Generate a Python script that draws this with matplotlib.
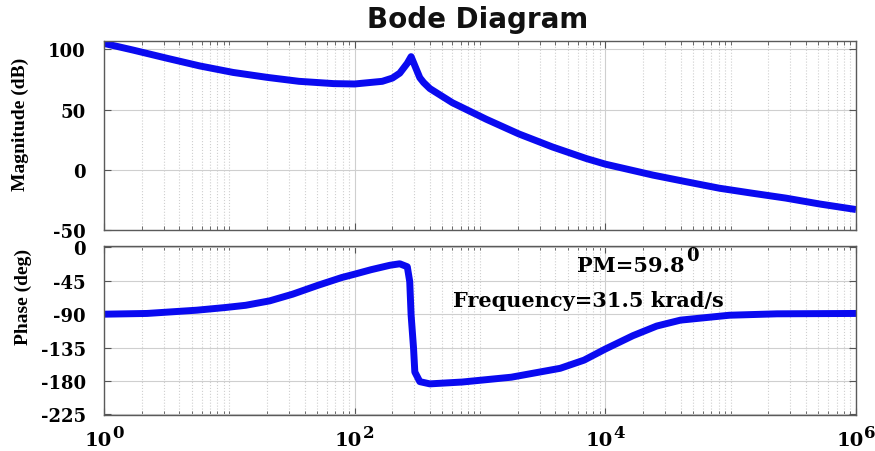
import matplotlib
matplotlib.use('Agg')
import matplotlib.pyplot as plt
from matplotlib.ticker import FixedLocator, NullFormatter

plt.rcParams['font.family'] = 'DejaVu Serif'
plt.rcParams['font.weight'] = 'bold'

# ---- data ----
mag_freq = [1, 1.7, 3.2, 5.8, 10.7, 20, 36, 68, 100, 166, 200, 229, 263, 282, 309,
            331, 355, 398, 603, 1122, 2042, 3802, 7079, 1e4, 23988, 43652, 81283,
            147911, 275423, 512861, 1e6]
mag_db = [105, 99.5, 92.6, 86.3, 80.9, 76.8, 73.5, 71.6, 71.3, 73.5, 76.2, 80.3, 88.5, 94, 84,
          76.5, 72.5, 67.5, 55.7, 42, 29.8, 18.9, 9.3, 4.7, -4.4, -9.8, -15.3,
          -19.4, -23.5, -28.4, -33]

phase_freq = [1, 2.2, 5.5, 9.3, 13.5, 21, 32, 51, 79, 100, 135, 191, 229, 263, 275,
              282, 295, 302, 331, 398, 724, 1778, 4365, 6761, 1e4, 16596, 25704,
              39811, 97724, 234423, 1e6]
phase_deg = [-90, -89, -84.6, -81, -78, -72, -63, -51, -40.5, -36, -30, -24, -22, -26, -46,
             -91, -136, -168, -181, -184, -181.5, -175, -163, -152, -137, -119, -106,
             -98, -91.4, -89.5, -89]

mag_ticks = [-50, 0, 50, 100]
phase_ticks = [-225, -180, -135, -90, -45, 0]
freq_ticks = [1, 1e2, 1e4, 1e6]
freq_exponents = ['0', '2', '4', '6']

title_text = 'Bode Diagram'
mag_label = 'Magnitude (dB)'
phase_label = 'Phase (deg)'
pm_text = 'PM=59.8'
pm_sup = '0'
freq_text = 'Frequency=31.5 krad/s'

# ---- figure ----
W, H = 875, 452
fig = plt.figure(figsize=(W / 100, H / 100), dpi=100)
ax1 = fig.add_axes([104 / W, 1 - 231 / H, 752 / W, 189 / H])
ax2 = fig.add_axes([104 / W, 1 - 416 / H, 752 / W, 169 / H])

line_color = '#0a0af0'
ax1.semilogx(mag_freq, mag_db, color=line_color, lw=5, solid_joinstyle='round',
             solid_capstyle='butt')
ax2.semilogx(phase_freq, phase_deg, color=line_color, lw=5, solid_joinstyle='round',
             solid_capstyle='butt')

minor_pos = [m * 10 ** k for k in range(6) for m in range(1, 10)]
minor_pos = [p for p in minor_pos if p not in freq_ticks]

for ax in (ax1, ax2):
    ax.set_xlim(1, 1e6)
    ax.xaxis.set_major_locator(FixedLocator(freq_ticks))
    ax.xaxis.set_minor_locator(FixedLocator(minor_pos))
    ax.xaxis.set_major_formatter(NullFormatter())
    ax.xaxis.set_minor_formatter(NullFormatter())
    ax.grid(which='major', color='#cfcfcf', lw=0.8, ls='-')
    ax.grid(which='minor', axis='x', color='#cfcfcf', lw=0.8, ls=':')
    ax.set_axisbelow(True)
    ax.tick_params(which='both', direction='in', top=True, right=True,
                   color='#555555', labelsize=13, pad=13)
    ax.tick_params(which='major', length=5, width=0.8)
    ax.tick_params(which='minor', length=3, width=0.6)
    for s in ax.spines.values():
        s.set_color('#5a5a5a')
        s.set_linewidth(1.0)

ax1.set_ylim(-50, 107)
ax1.set_yticks(mag_ticks)
ax1.set_yticklabels([str(t) for t in mag_ticks])

ax2.set_ylim(-226, 2)
ax2.set_yticks(phase_ticks)
ax2.set_yticklabels([str(t) for t in phase_ticks])

# x tick labels: "10" with a full-size exponent, whole label centred on tick
for t, e in zip(freq_ticks, freq_exponents):
    ax2.annotate('10', xy=(t, 0), xycoords=('data', 'axes fraction'),
                 xytext=(5.5, -21.6), textcoords='offset points',
                 ha='right', va='baseline', fontsize=14, annotation_clip=False)
    ax2.annotate(e, xy=(t, 0), xycoords=('data', 'axes fraction'),
                 xytext=(5.8, -15.8), textcoords='offset points',
                 ha='left', va='baseline', fontsize=12, annotation_clip=False)

# annotations
t_pm = ax2.text(5984, -31.4, pm_text, ha='left', va='baseline', fontsize=15)
ax2.annotate(pm_sup, xy=(1.0, 1.0), xycoords=t_pm, xytext=(1, 0),
             textcoords='offset points', ha='left', va='center', fontsize=13)
ax2.text(605, -79, freq_text, ha='left', va='baseline', fontsize=15)

# title and axis labels
fig.text(478 / W, 1 - 20 / H, title_text, ha='center', va='center',
         family='DejaVu Sans', weight='bold', fontsize=20, color='#111111')
fig.text(20 / W, 1 - 124 / H, mag_label, rotation=90, ha='center', va='center',
         family='Liberation Serif', weight='bold', fontsize=14)
fig.text(23 / W, 1 - 297 / H, phase_label, rotation=90, ha='center', va='center',
         family='Liberation Serif', weight='bold', fontsize=14)

fig.savefig('out.png', dpi=100)
